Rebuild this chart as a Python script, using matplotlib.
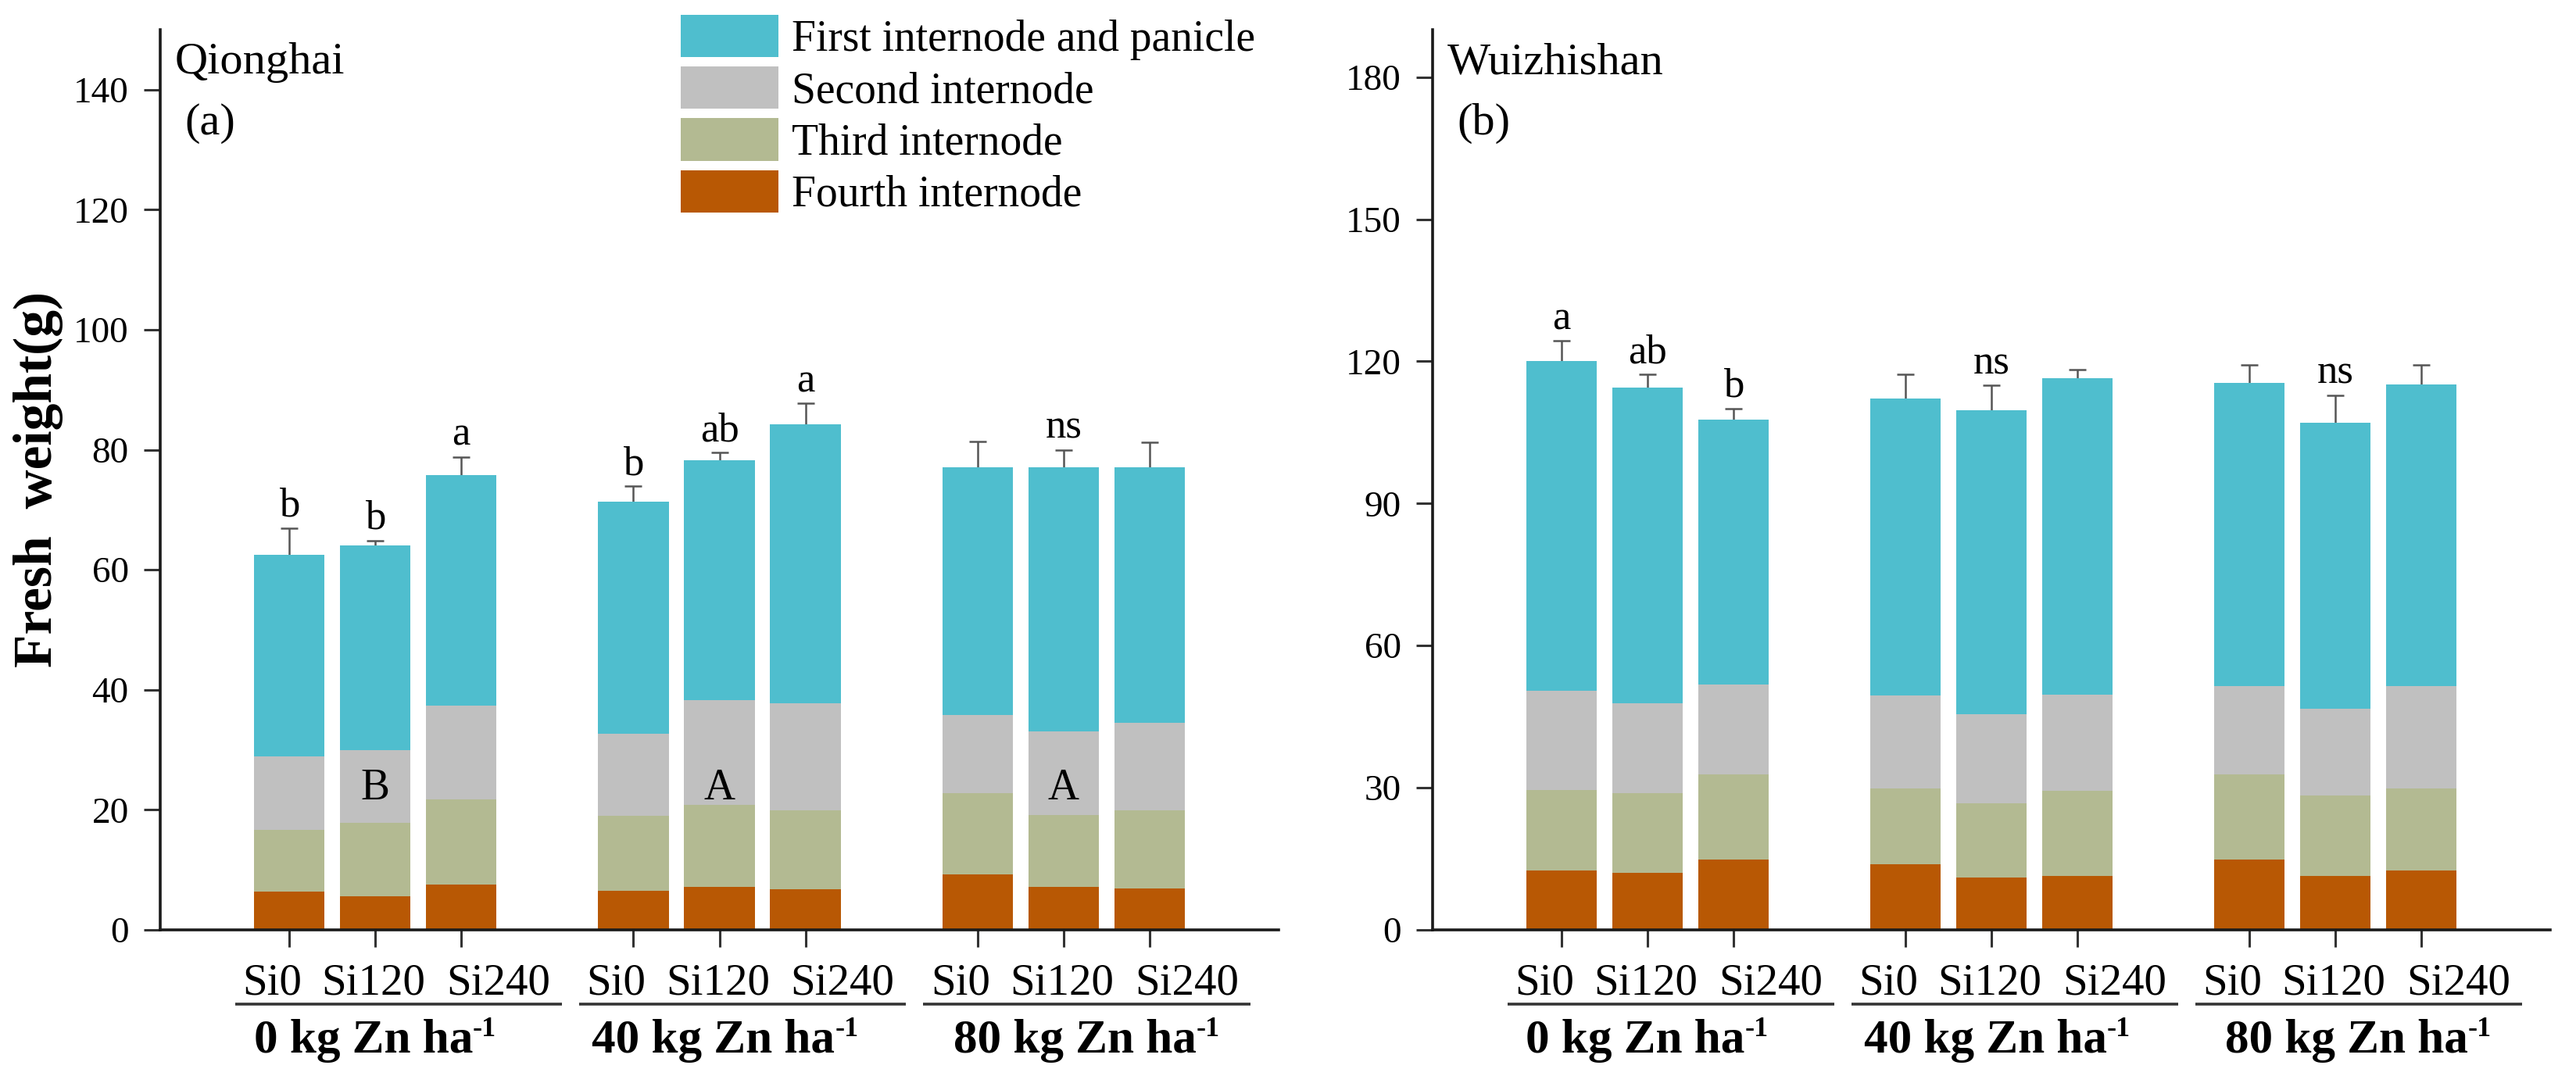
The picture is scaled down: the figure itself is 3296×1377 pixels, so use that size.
import numpy as np
import matplotlib
matplotlib.use("Agg")
import matplotlib.pyplot as plt
from matplotlib.patches import Patch
from matplotlib.transforms import blended_transform_factory

# --- 데이터 ---
treatments = ["Si0", "Si120", "Si240"]
zn_groups = ["0", "40", "80"]
layer_names = ["First internode and panicle", "Second internode",
               "Third internode", "Fourth internode"]
layer_colors = ["#4FBECE", "#C0C0C0", "#B3BA92", "#B85804"]

# Qionghai (a): segment heights, bottom (fourth) to top (first)
qh_fourth = [6.4, 5.6, 7.6, 6.5, 7.1, 6.8, 9.2, 7.1, 6.9]
qh_third = [10.3, 12.2, 14.1, 12.5, 13.7, 13.1, 13.6, 12.0, 13.0]
qh_second = [12.2, 12.1, 15.7, 13.7, 17.5, 17.8, 13.0, 14.0, 14.6]
qh_first = [33.6, 34.2, 38.4, 38.7, 39.9, 46.6, 41.3, 44.0, 42.6]
qh_err = [4.4, 0.8, 3.0, 2.5, 1.3, 3.4, 4.3, 2.9, 4.1]
qh_letters = ["b", "b", "a", "b", "ab", "a", "", "ns", ""]
qh_caps = ["", "B", "", "", "A", "", "", "A", ""]

# Wuizhishan (b)
wz_fourth = [12.5, 12.1, 14.9, 13.8, 11.0, 11.4, 14.9, 11.4, 12.6]
wz_third = [17.1, 16.8, 18.0, 16.1, 15.8, 17.9, 18.0, 16.9, 17.3]
wz_second = [20.8, 18.9, 18.9, 19.5, 18.7, 20.3, 18.6, 18.3, 21.6]
wz_first = [69.6, 66.7, 55.9, 62.8, 64.1, 66.9, 63.9, 60.4, 63.7]
wz_err = [4.3, 2.7, 2.3, 5.0, 5.3, 1.8, 3.9, 5.8, 4.1]
wz_letters = ["a", "ab", "b", "", "ns", "", "", "ns", ""]
wz_caps = ["", "", "", "", "", "", "", "", ""]

# --- 스타일 ---
plt.rcParams['font.family'] = ['Liberation Serif', 'DejaVu Serif']

W, H, DPI = 3296, 1377, 200
fig = plt.figure(figsize=(W / DPI, H / DPI), dpi=DPI)

positions = []
for g in range(3):
    for t in range(3):
        positions.append(g * 4 + t)
positions = np.array(positions)

# 라벨 배치 (그룹 시작 기준 오프셋)
label_offsets = [-0.2, 0.98, 2.43]
group_centers = [1.0, 1.07, 1.27]


def draw_panel(ax, layers, err, letters, caps, ymax, yticks, site, tag):
    fourth, third, second, first = [np.array(v) for v in layers]
    stack = [first, second, third, fourth]
    bottoms = [fourth + third + second, fourth + third, fourth, np.zeros_like(fourth)]
    total = fourth + third + second + first

    ax.errorbar(positions, total, yerr=err, fmt='none', ecolor='#555555',
                elinewidth=0.9, capsize=4, capthick=0.9, zorder=1)
    for vals, bot, col in zip(stack, bottoms, layer_colors):
        ax.bar(positions, vals, bottom=bot, width=0.82, color=col,
               edgecolor='none', zorder=2)

    for x, top, e, lab in zip(positions, total, err, letters):
        if lab:
            ax.annotate(lab, (x, top + e), xytext=(0, 5.5), textcoords='offset points',
                        ha='center', va='baseline', fontsize=19)
    for x, lab in zip(positions, caps):
        if lab:
            ax.text(x, 21.7, lab, ha='center', va='baseline', fontsize=20)

    ax.set_xlim(-1.5, 11.5)
    ax.set_ylim(0, ymax)
    ax.set_yticks(yticks)
    ax.set_xticks(positions)
    ax.set_xticklabels([])
    ax.tick_params(axis='x', direction='out', length=7.9, width=1.1,
                   color='#333333')
    ax.tick_params(axis='y', direction='out', length=7.5, width=1.1,
                   color='#333333', pad=7, labelsize=17)
    for s in ['top', 'right']:
        ax.spines[s].set_visible(False)
    for s in ['left', 'bottom']:
        ax.spines[s].set_color('#1a1a1a')
        ax.spines[s].set_linewidth(1.3)

    # 처리 라벨, Zn 그룹 라벨과 밑줄
    trans = blended_transform_factory(ax.transData, ax.transAxes)
    for g, zn in enumerate(zn_groups):
        x0 = g * 4
        for off, name in zip(label_offsets, treatments):
            ax.text(x0 + off, -0.072, name, transform=trans, ha='center',
                    va='baseline', fontsize=20.5)
        ax.plot([x0 - 0.63, x0 + 3.17], [-0.0825, -0.0825], transform=trans,
                color='#333333', lw=1.3, clip_on=False, solid_capstyle='butt')
        t = ax.text(x0 + group_centers[g] - 0.14, -0.136, zn + " kg Zn ha",
                    transform=trans, ha='center', va='baseline', fontsize=22,
                    fontweight='bold')
        ax.annotate("-1", xy=(1.0, 0.6), xycoords=t, ha='left', va='baseline',
                    fontsize=13, fontweight='bold')

    ax.text(0.013, 0.951, site, transform=ax.transAxes, ha='left',
            va='baseline', fontsize=21)
    ax.text(0.022, 0.884, tag, transform=ax.transAxes, ha='left',
            va='baseline', fontsize=21)


ax_a = fig.add_axes([205 / W, 1 - 1190 / H, 1431 / W, 1152 / H])
ax_b = fig.add_axes([1833 / W, 1 - 1190 / H, 1430 / W, 1152 / H])

draw_panel(ax_a, [qh_fourth, qh_third, qh_second, qh_first], qh_err,
           qh_letters, qh_caps, 150, np.arange(0, 141, 20), "Qionghai", "(a)")
draw_panel(ax_b, [wz_fourth, wz_third, wz_second, wz_first], wz_err,
           wz_letters, wz_caps, 190, np.arange(0, 181, 30), "Wuizhishan", "(b)")

fig.text(49 / W, 1 - 614 / H, "Fresh  weight(g)", rotation=90, ha='center',
         va='center', fontsize=25, fontweight='bold')

handles = [Patch(facecolor=c, edgecolor='none') for c in layer_colors]
fig.legend(handles, layer_names, loc='upper left',
           bbox_to_anchor=(871 / W, 1 - 19 / H), bbox_transform=fig.transFigure,
           frameon=False, fontsize=20, handlelength=2.25, handleheight=1.12,
           labelspacing=0.15, handletextpad=0.3, borderpad=0, borderaxespad=0)

fig.savefig("out.png", dpi=DPI)
